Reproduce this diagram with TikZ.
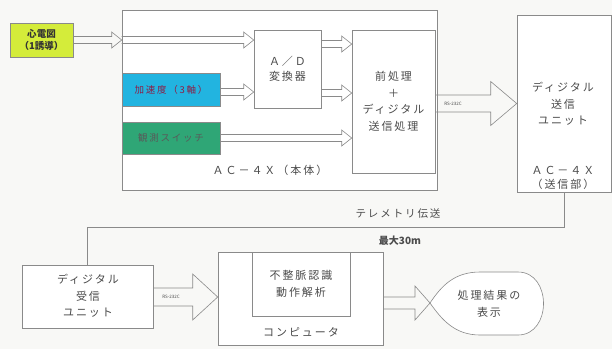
\documentclass[tikz,border=0pt]{standalone}
\usepackage{fontspec}
\setmainfont{Noto Sans CJK JP}
\newfontfamily\jp[LetterSpace=18]{Noto Sans CJK JP}
\usetikzlibrary{calc}
\definecolor{ln}{HTML}{8A8A8A}
\definecolor{tx}{HTML}{4A4A4A}
\definecolor{ecgc}{HTML}{D4EC3A}
\definecolor{accc}{HTML}{22B4E0}
\definecolor{swc}{HTML}{2FA676}
\definecolor{bg}{HTML}{F8F8F6}
\tikzset{
  box/.style={draw=ln, line width=0.6pt, fill=white, inner sep=0pt, text=tx},
  lbl/.style={text=tx, inner sep=0pt, align=center, font=\jp\fontsize{11}{16.5}\selectfont},
  hollow/.style n args={3}{draw=ln, line width=0.6pt, to path={let \p1=(\tikztostart), \p2=(\tikztotarget) in
    (\x1,\y1+#1) -- (\x2-#3,\y1+#1) -- (\x2-#3,\y1+#2) -- (\x2,\y1) -- (\x2-#3,\y1-#2) -- (\x2-#3,\y1-#1) -- (\x1,\y1-#1)}},
  small/.style={hollow={3.5pt}{8pt}{10pt}},
  big/.style={hollow={8.5pt}{22pt}{26pt}},
  rs/.style={text=tx, inner sep=0pt, font=\fontsize{4.5}{5}\selectfont},
}
\begin{document}
\begin{tikzpicture}[x=1pt,y=-1pt]
\useasboundingbox[fill=bg] (0,0) rectangle (612,349);
% main unit
\node[box, minimum width=315, minimum height=180] (main) at (279.5,100) {};
\node[box, fill=ecgc, minimum width=63, minimum height=34, text=black!80, align=center,
      font=\fontsize{9.5}{12}\selectfont\bfseries] (ecg) at (41.5,40) {心電図\\（1誘導）};
\node[box, fill=accc, minimum width=98, minimum height=33, text={rgb,255:red,140;green,30;blue,70},
      font=\jp\fontsize{9.5}{11}\selectfont] (acc) at (171,89.5) {加速度（3軸）};
\node[box, fill=swc, minimum width=98, minimum height=32, text=black!65,
      font=\jp\fontsize{9.5}{11}\selectfont] (sw) at (171,138) {観測スイッチ};
\node[box, minimum width=67, minimum height=78, align=center,
      font=\jp\fontsize{11}{15}\selectfont] (ad) at (287.5,69) {Ａ／Ｄ\\変換器};
\node[box, minimum width=83, minimum height=143, align=center,
      font=\jp\fontsize{11}{16.5}\selectfont] (pre) at (393.5,101.5) {前処理\\＋\\ディジタル\\送信処理};
\node[lbl] (mainlbl) at (270,170) {ＡＣ－４Ｘ（本体）};
% transmitter
\node[box, minimum width=94, minimum height=177] (txu) at (564,103.5) {};
\node[lbl] (txlbl) at (563,104) {ディジタル\\送信\\ユニット};
\node[lbl, font=\jp\fontsize{11}{14.5}\selectfont] (txlbl2) at (563,178) {ＡＣ－４Ｘ\\（送信部）};
% receiver side
\node[box, minimum width=131, minimum height=63] (rx) at (87.5,296.5) {};
\node[lbl] (rxlbl) at (88,296) {ディジタル\\受信\\ユニット};
\node[box, minimum width=165, minimum height=93] (comp) at (300.5,298.5) {};
\node[box, minimum width=98, minimum height=64, align=center,
      font=\jp\fontsize{11}{16.5}\selectfont] (anal) at (301,284) {不整脈認識\\動作解析};
\node[lbl] (complbl) at (301,332) {コンピュータ};
% display
\coordinate (dispL) at (430,303);
\draw[draw=ln, line width=0.6pt, fill=white] (dispL) .. controls (442,285) and (455,272) .. (480,272)
  -- (518,272) .. controls (552,272) and (552,335) .. (518,335) -- (480,335)
  .. controls (455,335) and (442,320) .. (dispL);
\node[lbl] (disp) at (489,304) {処理結果の\\表示};
% telemetry
\coordinate (tel) at ($(txu.south)+(0,35)$);
\draw[draw=ln, line width=0.6pt] (txu.south) -- (tel) -| (rx.north);
\node[lbl, font=\jp\fontsize{10.5}{12}\selectfont] (tellbl) at (398,214) {テレメトリ伝送};
\node[lbl, text=black!70, font=\fontsize{10}{12}\selectfont\bfseries] (distlbl) at (400,241) {最大30m};
% arrows
\draw[small] (ecg.east) to (ecg.east -| main.west);
\draw[small] (ecg.east -| main.west) to (ecg.east -| ad.west);
\draw[small] (acc.east |- 0,92) to (ad.west |- 0,92);
\draw[small] (sw.east) to (sw.east -| pre.west);
\draw[small] (ad.east |- 0,44) to (pre.west |- 0,44);
\draw[small] (ad.east |- 0,93) to (pre.west |- 0,93);
\draw[big] (pre.east |- 0,103.5) to (txu.west |- 0,103.5);
\node[rs] (rs1) at (453,103.5) {RS-232C};
\draw[hollow={9pt}{23pt}{25pt}] (rx.east |- 0,297) to (comp.west |- 0,297);
\node[rs] (rs2) at (171,297) {RS-232C};
\draw[hollow={6pt}{17pt}{15pt}] (comp.east |- dispL) to (dispL);
\end{tikzpicture}
\end{document}
